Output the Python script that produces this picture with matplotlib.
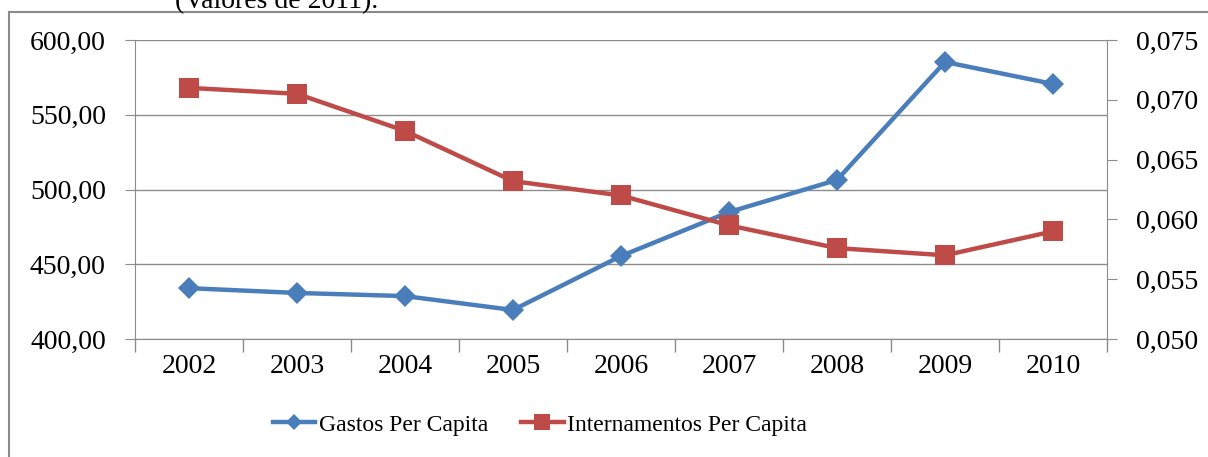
import matplotlib.pyplot as plt
from matplotlib.patches import Rectangle
from matplotlib.ticker import FuncFormatter

# Dados
anos = ['2002', '2003', '2004', '2005', '2006', '2007', '2008', '2009', '2010']
gastos = [434.0, 430.8, 428.7, 419.4, 455.5, 484.9, 506.4, 585.3, 570.6]
internamentos = [0.0710, 0.0705, 0.0674, 0.0632, 0.0620, 0.0595, 0.0576, 0.0570, 0.0590]

azul = '#4A7EBB'
vermelho = '#BE4B48'
cinza = '#8C8C8C'

plt.rcParams['font.family'] = ['Liberation Serif', 'DejaVu Serif']

fig = plt.figure(figsize=(12.08, 4.57), dpi=100)

# moldura do grafico (cortada a direita e em baixo)
fig.patches.append(Rectangle((9 / 1208, -0.1), 1.2, 1.1 - 11.5 / 457,
                             transform=fig.transFigure, fill=False,
                             edgecolor='#8a8a8a', lw=1.5))
fig.text(277 / 1208, 1 - 8 / 457, '(Valores de 2011).', fontsize=20,
         ha='center', va='baseline')

ax = fig.add_axes([135 / 1208, 1 - 339 / 457, (1107 - 135) / 1208, 299 / 457])
ax2 = ax.twinx()

x = [i + 0.5 for i in range(len(anos))]
l1, = ax.plot(x, gastos, color=azul, lw=3.2, marker='D', ms=11, mew=0,
              label='Gastos Per Capita', zorder=3)
l2, = ax2.plot(x, internamentos, color=vermelho, lw=3.2, marker='s', ms=15, mew=0,
               label='Internamentos Per Capita', zorder=3)

ax.set_xlim(0, len(anos))
ax.set_ylim(400, 600)
ax.set_yticks([400, 450, 500, 550, 600])
ax.yaxis.set_major_formatter(FuncFormatter(lambda v, p: f'{v:.2f}'.replace('.', ',')))
ax.set_xticks(x)
ax.set_xticklabels(anos)
ax.set_xticks(range(len(anos) + 1), minor=True)
ax.tick_params(axis='x', which='major', length=0, pad=11, labelsize=20)
ax.tick_params(axis='x', which='minor', length=9, color=cinza, width=1)
ax.tick_params(axis='y', length=7, color=cinza, pad=14, labelsize=20)
ax.grid(axis='y', color=cinza, lw=1)
ax.set_axisbelow(True)

ax2.set_ylim(0.050, 0.075)
ax2.set_yticks([0.050, 0.055, 0.060, 0.065, 0.070, 0.075])
ax2.yaxis.set_major_formatter(FuncFormatter(lambda v, p: f'{v:.3f}'.replace('.', ',')))
ax2.tick_params(axis='y', length=7, color=cinza, pad=14, labelsize=20)

for a in (ax, ax2):
    a.spines['top'].set_visible(False)
    for s in ('left', 'right', 'bottom'):
        a.spines[s].set_color(cinza)
ax.spines['right'].set_visible(False)
ax2.spines['left'].set_visible(False)
ax2.spines['bottom'].set_visible(False)

fig.legend(handles=[l1, l2], loc='center', bbox_to_anchor=(540 / 1208, 1 - 425 / 457),
           ncol=2, frameon=False, fontsize=17, handlelength=1.8, markerscale=0.75,
           handletextpad=0.15, columnspacing=1.4)

fig.savefig('out.png', dpi=100)
